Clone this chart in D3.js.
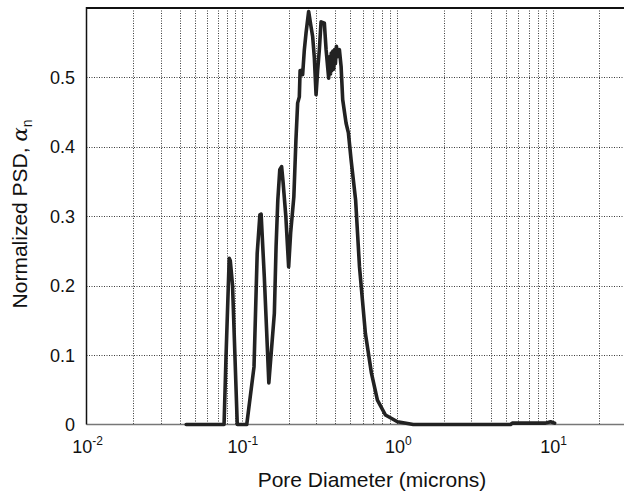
<!DOCTYPE html>
<html>
<head>
<meta charset="utf-8">
<script src="https://cdn.jsdelivr.net/npm/d3@7"></script>
<style>
  html, body { margin: 0; padding: 0; background: #fff; }
  svg { display: block; font-family: "Liberation Sans", Arial, Helvetica, sans-serif; }
</style>
</head>
<body>
<svg id="chart" width="624" height="492"></svg>
<script>
// ---- data ----
const diameter = [
  0.0438, 0.0768, 0.0790, 0.0829, 0.0842, 0.0871, 0.0934, 0.1075,
  0.1197, 0.1255, 0.1306, 0.1330, 0.1394, 0.1445, 0.1491, 0.1618,
  0.1660, 0.1703, 0.1754, 0.1802, 0.1840, 0.1918, 0.2000, 0.2060,
  0.2160, 0.2228, 0.2285, 0.2343, 0.2370, 0.2403, 0.2461, 0.2524,
  0.2588, 0.2690, 0.2787, 0.2854, 0.2927, 0.3002, 0.3074, 0.3152,
  0.3233, 0.3396, 0.3483, 0.3619, 0.3680, 0.3720, 0.3760, 0.3800,
  0.3850, 0.3900, 0.3950, 0.4000, 0.4060, 0.4120, 0.4243, 0.4351,
  0.4455, 0.4685, 0.4849, 0.5047, 0.5395, 0.5715, 0.6238, 0.6822,
  0.7454, 0.8395, 1.003, 1.268, 5.36, 5.50, 9.00, 9.70, 10.3
];
const psd = [
  0, 0, 0.096, 0.2395, 0.236, 0.200, 0, 0,
  0.083, 0.247, 0.302, 0.303, 0.213, 0.132, 0.060, 0.160,
  0.256, 0.323, 0.367, 0.3715, 0.350, 0.300, 0.227, 0.276,
  0.328, 0.410, 0.463, 0.472, 0.510, 0.510, 0.504, 0.540,
  0.564, 0.595, 0.573, 0.559, 0.528, 0.475, 0.510, 0.540,
  0.580, 0.578, 0.540, 0.499, 0.530, 0.505, 0.535, 0.510,
  0.538, 0.512, 0.540, 0.520, 0.545, 0.530, 0.540, 0.516,
  0.468, 0.434, 0.420, 0.381, 0.3235, 0.227, 0.131, 0.074,
  0.035, 0.0137, 0.004, 0, 0, 0.002, 0.002, 0.004, 0.002
];
const xMajorTicks = [0.01, 0.1, 1, 10];
const xTickExponents = ["-2", "-1", "0", "1"];
const yTicks = [0, 0.1, 0.2, 0.3, 0.4, 0.5];
const yTickLabels = ["0", "0.1", "0.2", "0.3", "0.4", "0.5"];
const xLabel = "Pore Diameter (microns)";
const yLabelMain = "Normalized PSD, ";
const yLabelSym = "\u03B1";
const yLabelSub = "n";

// ---- layout ----
const svg = d3.select("#chart");
const pLeft = 86.5, pRight = 708, pTop = 8, pBottom = 424.5;
const x = d3.scaleLog().domain([0.01, 100]).range([pLeft, pRight]);
const y = d3.scaleLinear().domain([0, 0.6]).range([pBottom, pTop]);

// minor + major grid values
const gridX = [];
for (let e = -2; e <= 1; e++) {
  for (let m = 1; m <= 9; m++) {
    const v = m * Math.pow(10, e);
    if (v > 0.01) gridX.push(v);
  }
}

const grid = svg.append("g").attr("stroke", "#3a3a3a").attr("stroke-width", 1)
  .attr("stroke-dasharray", "1,1.5").attr("fill", "none");
grid.selectAll("line.v").data(gridX).join("line").attr("class", "v")
  .attr("x1", d => Math.round(x(d)) + 0.5).attr("x2", d => Math.round(x(d)) + 0.5)
  .attr("y1", pTop).attr("y2", pBottom);
grid.selectAll("line.h").data(yTicks.filter(d => d > 0)).join("line").attr("class", "h")
  .attr("x1", pLeft).attr("x2", pRight)
  .attr("y1", d => Math.round(y(d)) + 0.5).attr("y2", d => Math.round(y(d)) + 0.5);

// axes lines
svg.append("line").attr("x1", pLeft).attr("x2", pRight).attr("y1", pBottom).attr("y2", pBottom)
  .attr("stroke", "#777").attr("stroke-width", 1.5);
svg.append("line").attr("x1", pLeft).attr("x2", pLeft).attr("y1", pTop - 1).attr("y2", pBottom)
  .attr("stroke", "#111").attr("stroke-width", 1.5);
svg.append("line").attr("x1", pLeft).attr("x2", pRight).attr("y1", pTop).attr("y2", pTop)
  .attr("stroke", "#111").attr("stroke-width", 2);

// data line
const pts = diameter.map((d, i) => [d, psd[i]]);
svg.append("path").datum(pts)
  .attr("fill", "none").attr("stroke", "#222").attr("stroke-width", 3.6)
  .attr("stroke-linejoin", "round").attr("stroke-linecap", "round")
  .attr("d", d3.line().x(d => x(d[0])).y(d => y(d[1])));

// y tick labels
svg.append("g").selectAll("text").data(yTicks).join("text")
  .attr("x", 75).attr("y", d => y(d)).attr("dy", "0.36em")
  .attr("text-anchor", "end").attr("font-size", 18).attr("fill", "#111")
  .text((d, i) => yTickLabels[i]);

// x tick labels 10^n
const xt = svg.append("g").selectAll("text").data(xMajorTicks).join("text")
  .attr("x", d => x(d) + 1).attr("y", 453)
  .attr("text-anchor", "middle").attr("font-size", 18).attr("fill", "#111");
xt.append("tspan").text("10");
xt.append("tspan").attr("dy", -8).attr("font-size", 12).text((d, i) => xTickExponents[i]);

// axis labels
svg.append("text").attr("x", 372).attr("y", 487).attr("text-anchor", "middle")
  .attr("font-size", 21).attr("fill", "#111").text(xLabel);

const yl = svg.append("text").attr("transform", "translate(27,214) rotate(-90)")
  .attr("text-anchor", "middle").attr("font-size", 21).attr("fill", "#111");
yl.append("tspan").text(yLabelMain);
yl.append("tspan").attr("font-family", "'DejaVu Serif', serif").attr("font-style", "italic").text(yLabelSym);
yl.append("tspan").attr("dy", 5).attr("font-size", 14).text(yLabelSub);
</script>
</body>
</html>
